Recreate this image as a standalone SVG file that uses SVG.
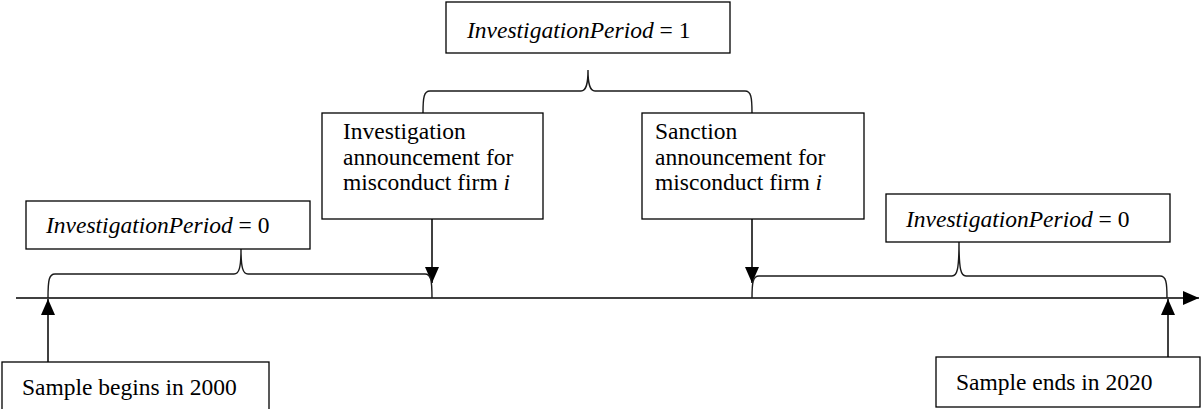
<svg xmlns="http://www.w3.org/2000/svg" width="1202" height="409" viewBox="0 0 1202 409">
<style>
.box{fill:#fff;stroke:#000;stroke-width:1.3}
.t{font-family:"Liberation Serif","Times New Roman",serif;font-size:23.5px;fill:#000}
.it{font-style:italic}
.ln{fill:none;stroke:#404040;stroke-width:2}
.br{fill:none;stroke:#1a1a1a;stroke-width:1.4}
</style>
<defs>
<marker id="ah" markerUnits="userSpaceOnUse" markerWidth="16" markerHeight="14" refX="16" refY="7" orient="auto">
<path d="M0,0 L16,7 L0,14 z" fill="#000"/>
</marker>
</defs>
<rect width="1202" height="409" fill="#fff"/>
<g id="connectors">
<line class="ln" x1="16" y1="298" x2="1199" y2="298" marker-end="url(#ah)"/>
<line class="ln" x1="432" y1="219" x2="432" y2="283" marker-end="url(#ah)"/>
<line class="ln" x1="752" y1="219" x2="752" y2="283" marker-end="url(#ah)"/>
<line class="ln" x1="48" y1="362" x2="48" y2="299" marker-end="url(#ah)"/>
<line class="ln" x1="1168" y1="357" x2="1168" y2="299" marker-end="url(#ah)"/>
<path class="br" d="M423,113 C423,97 424,91 430,91 L581,91 C586,91 588,85 588,70 C588,85 590,91 595,91 L745,91 C751,91 752,97 752,113"/>
<path class="br" d="M48,298 C48,280 49,274 55,274 L234,274 C239,274 241,268 241,249 C241,268 243,274 248,274 L425,274 C431,274 432,280 432,298"/>
<path class="br" d="M752,298 C752,282 753,276 759,276 L952,276 C957,276 959,270 959,242 C959,270 961,276 966,276 L1160,276 C1166,276 1167,282 1167,298"/>
</g>
<g id="node-period1-top">
<rect class="box" x="446" y="2" width="284" height="51"/>
<text class="t" x="467" y="38"><tspan class="it">InvestigationPeriod</tspan> = 1</text>
</g>
<g id="node-investigation">
<rect class="box" x="322" y="113" width="221" height="106"/>
<text class="t" x="343" y="139">Investigation</text>
<text class="t" x="343" y="165">announcement for</text>
<text class="t" x="343" y="190">misconduct firm <tspan class="it">i</tspan></text>
</g>
<g id="node-sanction">
<rect class="box" x="642" y="113" width="222" height="106"/>
<text class="t" x="655" y="139">Sanction</text>
<text class="t" x="655" y="165">announcement for</text>
<text class="t" x="655" y="190">misconduct firm <tspan class="it">i</tspan></text>
</g>
<g id="node-period0-left">
<rect class="box" x="26" y="201" width="284" height="48"/>
<text class="t" x="46" y="233"><tspan class="it">InvestigationPeriod</tspan> = 0</text>
</g>
<g id="node-period0-right">
<rect class="box" x="886" y="194" width="284" height="48"/>
<text class="t" x="906" y="227"><tspan class="it">InvestigationPeriod</tspan> = 0</text>
</g>
<g id="node-begin">
<rect class="box" x="2" y="362" width="267" height="60"/>
<text class="t" x="22" y="395">Sample begins in 2000</text>
</g>
<g id="node-end">
<rect class="box" x="936" y="357" width="264" height="50"/>
<text class="t" x="956" y="390">Sample ends in 2020</text>
</g>
</svg>
